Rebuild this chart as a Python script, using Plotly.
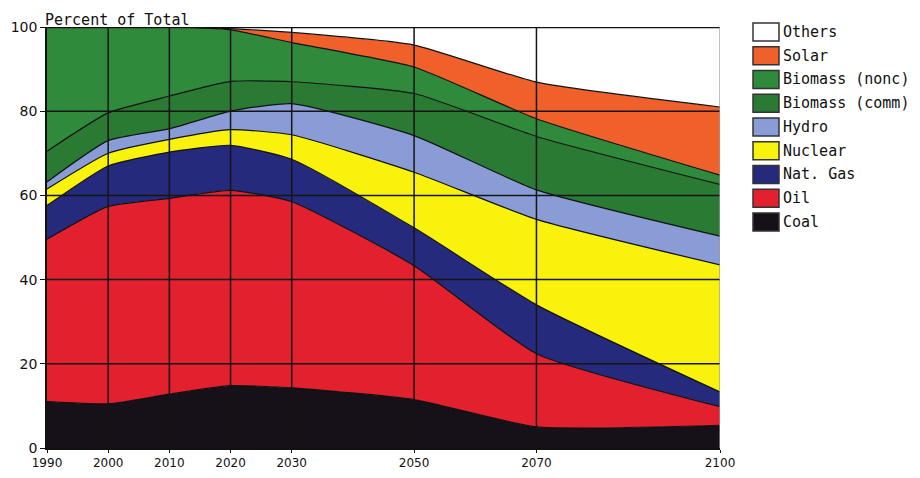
import plotly.graph_objects as go

years = [1990, 2000, 2010, 2020, 2030, 2050, 2070, 2100]
coal = [11.0, 10.5, 12.8, 14.8, 14.3, 11.5, 5.0, 5.4]
oil = [38.6, 46.9, 46.5, 46.4, 44.2, 31.8, 17.4, 4.4]
nat_gas = [8.0, 9.6, 11.0, 10.7, 10.1, 9.0, 11.6, 3.5]
nuclear = [3.9, 3.0, 3.0, 3.7, 5.8, 13.2, 20.3, 30.2]
hydro = [1.7, 3.0, 2.5, 4.4, 7.4, 8.7, 7.0, 6.8]
biomass_comm = [7.3, 6.6, 7.8, 7.1, 5.2, 10.0, 12.7, 12.3]
biomass_nonc = [29.5, 20.4, 16.4, 12.2, 9.3, 6.3, 4.2, 2.2]
solar = [0.0, 0.0, 0.0, 0.3, 2.4, 5.2, 8.7, 16.2]
others = [0.0, 0.0, 0.0, 0.4, 1.3, 4.3, 13.1, 19.0]

y_ticks = [0, 20, 40, 60, 80, 100]

series = [
    ("Coal", coal, "#161018"),
    ("Oil", oil, "#e2202e"),
    ("Nat. Gas", nat_gas, "#262a7c"),
    ("Nuclear", nuclear, "#f8f20c"),
    ("Hydro", hydro, "#8a9cd6"),
    ("Biomass (comm)", biomass_comm, "#2a7a34"),
    ("Biomass (nonc)", biomass_nonc, "#2f8a3b"),
    ("Solar", solar, "#f0602a"),
    ("Others", others, "#ffffff"),
]

fig = go.Figure()
for name, vals, col in series:
    fig.add_trace(go.Scatter(
        x=years, y=vals, name=name, mode="lines", stackgroup="one",
        fillcolor=col, line=dict(color="#111111", width=1.2, shape="spline", smoothing=0.5),
        showlegend=False,
    ))

# figure size / page offset (page body has an 8px margin)
OFF = 8
FW, FH = 912, 462
# plot area in screenshot pixels
L, R, T, B = 47 - OFF, 720 - OFF, 27 - OFF, 448 - OFF
W, H = R - L, B - T
def px(x):
    return (x - OFF - L) / W
def py(y):
    return (B - (y - OFF)) / H

shapes = []
# gridlines drawn above the areas, from tick lists
for yr in years[1:-1]:
    shapes.append(dict(type="line", xref="x", yref="y", x0=yr, x1=yr, y0=0, y1=100,
                       line=dict(color="#151515", width=1.5), layer="above"))
for yv in y_ticks[1:-1]:
    shapes.append(dict(type="line", xref="x", yref="y", x0=years[0], x1=years[-1], y0=yv, y1=yv,
                       line=dict(color="#151515", width=1.5), layer="above"))
# frame
shapes.append(dict(type="line", xref="x", yref="y", x0=years[0], x1=years[-1], y0=100, y1=100,
                   line=dict(color="#111111", width=2.5), layer="above"))
shapes.append(dict(type="line", xref="x", yref="y", x0=years[-1], x1=years[-1], y0=0, y1=100,
                   line=dict(color="#9a9a9a", width=1.2), layer="above"))

# custom legend
annotations = []
legend_order = list(reversed(series))
for i, (name, vals, col) in enumerate(legend_order):
    cy = 32 + i * 23.75
    shapes.append(dict(type="rect", xref="paper", yref="paper",
                       x0=px(753), x1=px(779), y0=py(cy - 9), y1=py(cy + 9),
                       fillcolor=col, line=dict(color="#333333", width=1.5)))
    annotations.append(dict(xref="paper", yref="paper", x=px(781), y=py(cy), text=name,
                            showarrow=False, xanchor="left", yanchor="middle",
                            font=dict(family="DejaVu Sans Mono", size=15, color="#111111")))

annotations.append(dict(xref="paper", yref="paper", x=px(43), y=py(30.5), text="Percent of Total",
                        showarrow=False, xanchor="left", yanchor="bottom",
                        font=dict(family="DejaVu Sans Mono", size=15, color="#111111")))

fig.update_layout(
    width=FW, height=FH,
    margin=dict(l=L, r=FW - R, t=T, b=FH - B, autoexpand=False),
    paper_bgcolor="white", plot_bgcolor="white",
    shapes=shapes, annotations=annotations,
    showlegend=False,
)
fig.update_xaxes(range=[years[0], years[-1]], tickvals=years, ticktext=[str(y) for y in years],
                 showgrid=False, zeroline=False, showline=True, linecolor="#111111", linewidth=1.5,
                 ticks="outside", ticklen=3, tickcolor="#111111", automargin=False,
                 tickfont=dict(family="DejaVu Sans", size=12, color="#111111"))
fig.update_yaxes(range=[0, 100], tickvals=y_ticks, showgrid=False, zeroline=False,
                 showline=True, linecolor="#111111", linewidth=1.5,
                 ticks="outside", ticklen=5, tickcolor="#111111", automargin=False,
                 tickfont=dict(family="DejaVu Sans", size=14, color="#111111"))

fig.write_html("out.html")
